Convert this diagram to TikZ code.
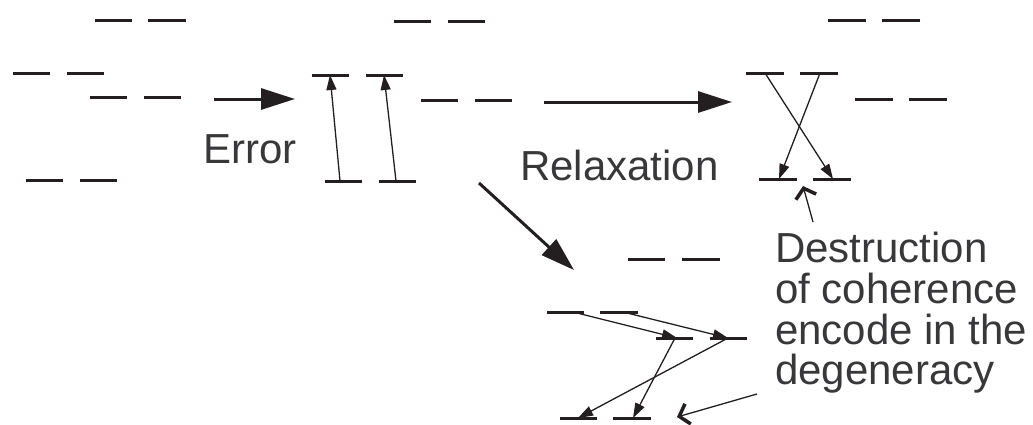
\documentclass[tikz,border=0pt]{standalone}
\usepackage{fontspec}
\setmainfont{Liberation Sans}
\usetikzlibrary{arrows.meta}
\definecolor{ink}{HTML}{231F20}
\definecolor{txt}{HTML}{38383A}
\newcommand\lev[3]{\draw[lvl] (#1,#3) -- (#2,#3);}
\begin{document}
\begin{tikzpicture}[x=1pt,y=-1pt,
  lvl/.style={draw=ink,line width=3pt},
  thinarrow/.style={draw=ink,line width=1.3pt,-{Triangle[length=15pt,width=10pt]}},
  bigarrow/.style={draw=ink,line width=3pt,-{Triangle[length=34pt,width=21pt]}},
  pointer/.style={draw=ink,line width=1.3pt,-{Straight Barb[length=9pt,width=21pt,line width=3.5pt]}},
  lbl/.style={text=txt,font=\fontsize{42}{42}\selectfont,inner sep=0pt,anchor=base west}]
\useasboundingbox (0,0) rectangle (1033,424);
% group A
\lev{95}{132}{20}\lev{148}{186}{20}
\lev{13}{50}{73}\lev{67}{104}{73}
\lev{90}{127}{97}\lev{144}{181}{97}
\lev{26}{63}{180}\lev{80}{117}{180}
% group B
\lev{394}{431}{21}\lev{448}{485}{21}
\lev{312}{349}{75}\lev{366}{403}{75}
\lev{421}{458}{100}\lev{475}{512}{100}
\lev{325}{362}{181}\lev{379}{416}{181}
% group C
\lev{828}{866}{20}\lev{882}{920}{20}
\lev{746}{784}{73}\lev{800}{838}{73}
\lev{855}{893}{99}\lev{909}{947}{99}
\lev{759}{797}{179}\lev{813}{851}{179}
% group D
\lev{628}{665}{259}\lev{682}{720}{259}
\lev{547}{584}{312}\lev{600}{638}{312}
\lev{656}{693}{338}\lev{710}{747}{338}
\lev{560}{597}{418}\lev{613}{651}{418}
% coordinates
\coordinate (b7a) at (340,181); \coordinate (b3a) at (330,75);
\coordinate (b8a) at (396,181); \coordinate (b4a) at (384,75);
\coordinate (c3a) at (765,73);  \coordinate (c8a) at (833,179);
\coordinate (c4a) at (820,73);  \coordinate (c7a) at (779,179);
\coordinate (cp0) at (813,222); \coordinate (cp1) at (803,186);
\coordinate (d3a) at (573,312); \coordinate (d5a) at (677,338);
\coordinate (d4a) at (623,312); \coordinate (d6a) at (728,338);
\coordinate (d5b) at (675,338); \coordinate (d8a) at (633,418);
\coordinate (d6b) at (728,338); \coordinate (d7a) at (578,418);
\coordinate (dp0) at (757,394); \coordinate (dp1) at (677,417);
\coordinate (e0) at (214,99);   \coordinate (e1) at (295,99);
\coordinate (r0) at (544,102);  \coordinate (r1) at (732,102);
\coordinate (g0) at (479,183);  \coordinate (g1) at (574,270);
% arrows
\draw[thinarrow] (b7a) -- (b3a);
\draw[thinarrow] (b8a) -- (b4a);
\draw[thinarrow] (c3a) -- (c8a);
\draw[thinarrow] (c4a) -- (c7a);
\draw[thinarrow] (d3a) -- (d5a);
\draw[thinarrow] (d4a) -- (d6a);
\draw[thinarrow] (d5b) -- (d8a);
\draw[thinarrow] (d6b) -- (d7a);
\draw[pointer] (cp0) -- (cp1);
\draw[pointer] (dp0) -- (dp1);
\draw[bigarrow] (e0) -- (e1);
\draw[bigarrow] (r0) -- (r1);
\draw[bigarrow] (g0) -- (g1);
% labels
\node[lbl] (err) at (203,163) {Error};
\node[lbl] (rel) at (520,180) {Relaxation};
\node[lbl] (t1) at (775,262) {Destruction};
\node[lbl] (t2) at (775,303) {of coherence};
\node[lbl] (t3) at (775,344) {encode in the};
\node[lbl] (t4) at (775,384) {degeneracy};
\end{tikzpicture}
\end{document}
